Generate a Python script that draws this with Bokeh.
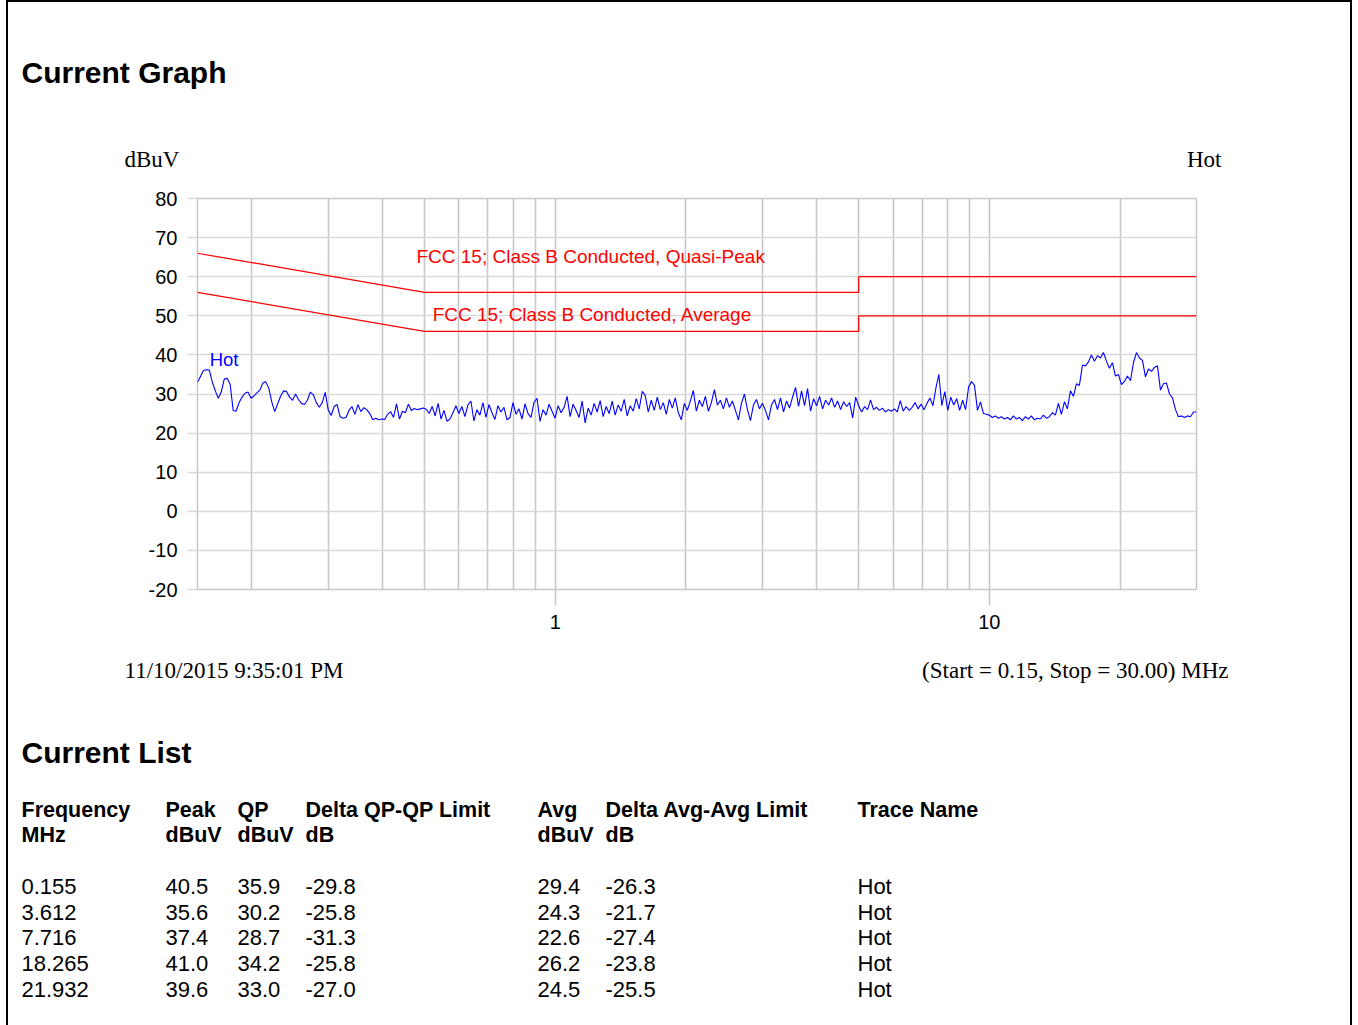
import numpy as np
from bokeh.plotting import figure
from bokeh.models import Range1d, FixedTicker, Label
from bokeh.embed import file_html
from bokeh.resources import INLINE

# ---------------- data ----------------
START_MHZ, STOP_MHZ = 0.15, 30.0
SEG_EDGES_MHZ = [0.15, 0.30, 0.60, 5.0, 10.0, 30.0]

hot_seg_a = [33.0, 34.5, 36.0, 36.2, 36.1, 33.0, 30.8, 28.9, 30.5, 33.8,
             34.0, 32.5, 25.8, 25.6, 27.8, 29.2, 30.2, 30.5, 28.9, 29.5,
             30.3, 31.0, 32.8, 33.1, 31.5, 28.0, 25.5, 27.5, 29.5, 30.8,
             30.6, 29.2, 28.4, 30.0, 28.6, 27.6, 27.3, 28.4, 30.5, 29.8,
             27.8, 26.6, 27.8, 30.4]
hot_seg_b = [26.0, 24.5, 26.8, 27.3, 24.2, 23.8, 24.0, 25.8, 26.8, 24.8,
             27.3, 25.5, 26.5, 26.0, 25.0, 23.4, 23.8, 23.4, 23.6, 23.5,
             24.8, 25.5, 24.0, 27.5, 23.6, 25.6, 25.2, 27.4, 25.8, 26.3,
             26.0, 26.2, 26.4, 26.1, 25.0, 26.8, 24.4, 27.6, 23.6, 25.8,
             23.0, 23.6, 25.2, 27.0]
hot_seg_c = [25.0, 26.8, 24.2, 27.2, 28.2, 23.1, 26.0, 24.6, 27.8, 24.0,
             27.3, 25.2, 23.5, 27.0, 25.4, 26.6, 23.4, 24.0, 27.8, 24.8,
             26.2, 23.6, 27.5, 25.0, 24.0, 27.9, 28.9, 23.0, 26.0, 24.6,
             27.4, 25.6, 23.8, 27.0, 25.2, 26.6, 29.4, 24.2, 27.4, 25.8,
             24.0, 28.2, 22.6, 26.4, 24.6, 27.6, 25.4, 28.3, 24.2, 26.8,
             25.0, 28.2, 24.6, 27.2, 25.6, 28.6, 24.4, 27.0, 25.6, 28.8,
             26.2, 30.7, 29.6, 25.4, 28.4, 25.8, 29.2, 26.0, 27.8, 24.8,
             28.6, 26.4, 29.0, 25.2, 23.4, 27.6, 25.8, 28.2, 30.9, 25.6,
             28.4, 26.8, 29.4, 25.6, 27.8, 31.1, 27.2, 28.4, 26.2, 29.0,
             26.6, 28.2, 25.8, 23.4, 27.6, 30.0, 26.0, 23.2, 27.2, 28.6,
             26.2, 27.6, 25.8, 23.4, 27.2, 28.6, 26.0, 29.0, 25.4, 28.2,
             26.4, 29.2, 31.7, 26.8, 30.8, 27.0, 31.4, 25.6, 28.8, 27.0,
             29.4, 26.2, 28.4, 27.2, 29.0, 26.6, 28.2, 26.0, 28.0, 26.8,
             27.8, 23.9, 29.2]
hot_seg_d = [27.0, 25.4, 26.8, 26.0, 28.5, 26.0, 26.6, 25.8, 26.4, 25.4,
             26.0, 25.6, 26.2, 25.4, 28.3, 25.6, 26.8, 25.8, 26.6, 27.8,
             26.2, 27.4, 26.0, 27.6, 29.0, 27.0, 31.5, 35.0, 27.0, 30.6,
             25.8, 29.2, 27.2, 28.8, 25.8, 28.4, 26.0, 31.8, 33.2, 32.2,
             25.8, 28.0, 25.0, 24.8]
hot_seg_e = [24.6, 24.0, 24.4, 23.8, 24.2, 23.6, 24.0, 23.4, 24.4, 23.6,
             24.0, 23.2, 24.2, 23.6, 24.4, 23.4, 23.8, 23.6, 24.6, 23.8,
             24.2, 25.2, 24.6, 27.6, 24.8, 28.0, 26.2, 30.8, 29.4, 32.6,
             32.2, 37.4, 37.2, 38.2, 40.0, 38.4, 39.8, 39.2, 40.6, 38.4,
             36.6, 38.0, 34.6, 35.0, 32.4, 33.2, 34.6, 33.4, 38.0, 40.6,
             39.2, 38.6, 34.4, 36.4, 35.8, 36.8, 37.2, 31.0, 32.6, 32.8,
             30.0, 29.0, 26.0, 24.2, 24.4, 24.0, 24.4, 24.2, 25.4, 25.4]

limit_freq_mhz = [0.15, 0.50, 5.0, 5.0, 30.0]
qp_limit_dbuv = [66.0, 56.0, 56.0, 60.0, 60.0]
avg_limit_dbuv = [56.0, 46.0, 46.0, 50.0, 50.0]

y_ticks = [-20, -10, 0, 10, 20, 30, 40, 50, 60, 70, 80]
x_label_ticks = [1, 10]
x_grid_ticks = [0.2, 0.3, 0.4, 0.5, 0.6, 0.7, 0.8, 0.9, 1, 2, 3, 4, 5, 6, 7, 8, 9, 10, 20]

list_freq_mhz = [0.155, 3.612, 7.716, 18.265, 21.932]
list_peak = [40.5, 35.6, 37.4, 41.0, 39.6]
list_qp = [35.9, 30.2, 28.7, 34.2, 33.0]
list_delta_qp = [-29.8, -25.8, -31.3, -25.8, -27.0]
list_avg = [29.4, 24.3, 22.6, 26.2, 24.5]
list_delta_avg = [-26.3, -21.7, -27.4, -23.8, -25.5]
list_trace = ["Hot", "Hot", "Hot", "Hot", "Hot"]

# sweep frequency grid for each trace segment
segs = [hot_seg_a, hot_seg_b, hot_seg_c, hot_seg_d, hot_seg_e]
freqs, vals = [], []
for i, s in enumerate(segs):
    f = np.geomspace(SEG_EDGES_MHZ[i], SEG_EDGES_MHZ[i + 1], len(s), endpoint=(i == len(segs) - 1))
    freqs.extend(f.tolist())
    vals.extend(s)

SANS = "Liberation Sans"
SERIF = "Liberation Serif"

# ---------------- page (background with texts and border) ----------------
PW, PH = 1346, 1025
OX, OY = 8, 2                # page position of the drawing origin
page = figure(width=PW, height=PH, x_range=Range1d(0, PW), y_range=Range1d(PH, 0),
              min_border=0, x_axis_location=None, y_axis_location=None,
              output_backend="svg", toolbar_location=None)
page.styles = {"position": "absolute", "left": "6px", "top": "0px",
               "border-left": "2px solid #000", "border-right": "2px solid #000",
               "border-top": "2px solid #000"}
page.grid.visible = False
page.outline_line_color = None
page.background_fill_color = "white"
page.border_fill_color = "white"


def page_label(px, py, text, font=SANS, size="22px", align="left", style="normal"):
    page.add_layout(Label(x=px - OX, y=py - OY, text=text,
                          text_font=font, text_font_size=size, text_align=align, text_baseline="middle",
                          text_font_style=style, text_color="black"))


page_label(21, 72, "Current Graph", size="30px", style="bold")
page_label(124, 159, "dBuV", font=SERIF, size="23px")
page_label(1221, 159, "Hot", font=SERIF, size="23px", align="right")
page_label(124, 670, "11/10/2015 9:35:01 PM", font=SERIF, size="23px")
page_label(1228, 670, "(Start = 0.15, Stop = 30.00) MHz", font=SERIF, size="23px", align="right")
page_label(21, 752, "Current List", size="30px", style="bold")

col_x = [21, 165, 237, 305, 537, 605, 857]
head1 = ["Frequency", "Peak", "QP", "Delta QP-QP Limit", "Avg", "Delta Avg-Avg Limit", "Trace Name"]
head2 = ["MHz", "dBuV", "dBuV", "dB", "dBuV", "dB", ""]
for cx, h1, h2 in zip(col_x, head1, head2):
    page_label(cx, 809, h1, size="21.5px", style="bold")
    if h2:
        page_label(cx, 834, h2, size="21.5px", style="bold")

row_mid = [886, 911.7, 937.3, 963, 988.6]
for i, ym in enumerate(row_mid):
    cells = [f"{list_freq_mhz[i]:.3f}", f"{list_peak[i]:.1f}", f"{list_qp[i]:.1f}", f"{list_delta_qp[i]:.1f}",
             f"{list_avg[i]:.1f}", f"{list_delta_avg[i]:.1f}", list_trace[i]]
    for cx, c in zip(col_x, cells):
        page_label(cx, ym, c)

# ---------------- chart ----------------
FL, FT = 197, 198            # frame left / top on the page
MBL, MBT, MBR, MBB = 60, 10, 10, 60
p = figure(x_axis_type="log", x_range=Range1d(START_MHZ, STOP_MHZ), y_range=Range1d(-20, 80),
           frame_width=999, frame_height=391,
           min_border_left=MBL, min_border_right=MBR, min_border_top=MBT, min_border_bottom=MBB,
           output_backend="svg", toolbar_location=None)
p.styles = {"position": "absolute", "left": f"{FL - MBL}px", "top": f"{FT - MBT}px"}
p.background_fill_color = "white"
p.border_fill_alpha = 0
p.outline_line_color = "#c8c8c8"
p.outline_line_width = 1.5

p.xgrid.ticker = FixedTicker(ticks=x_grid_ticks)
p.xgrid.grid_line_color = "#c8c8c8"
p.xgrid.grid_line_width = 1.6
p.ygrid.ticker = FixedTicker(ticks=y_ticks)
p.ygrid.grid_line_color = "#d9d9d9"
p.ygrid.grid_line_width = 1.4

p.yaxis.ticker = FixedTicker(ticks=y_ticks)
p.yaxis.major_label_overrides = {t: str(t) for t in y_ticks}
p.yaxis.axis_line_color = None
p.yaxis.major_tick_line_color = "#d9d9d9"
p.yaxis.major_tick_line_width = 1.4
p.yaxis.major_tick_out = 10
p.yaxis.major_tick_in = 0
p.yaxis.minor_tick_line_color = None
p.yaxis.major_label_standoff = 10
p.yaxis.major_label_text_font = SANS
p.yaxis.major_label_text_font_size = "20px"
p.yaxis.major_label_text_color = "black"

p.xaxis.ticker = FixedTicker(ticks=x_label_ticks, minor_ticks=[])
p.xaxis.major_label_overrides = {1: "1", 10: "10"}
p.xaxis.axis_line_color = None
p.xaxis.major_tick_line_color = "#c8c8c8"
p.xaxis.major_tick_line_width = 1.6
p.xaxis.major_tick_out = 16
p.xaxis.major_tick_in = 0
p.xaxis.minor_tick_line_color = None
p.xaxis.major_label_standoff = 9
p.xaxis.major_label_text_font = SANS
p.xaxis.major_label_text_font_size = "20px"
p.xaxis.major_label_text_color = "black"

p.line(limit_freq_mhz, qp_limit_dbuv, line_color="#ff0000", line_width=1.2)
p.line(limit_freq_mhz, avg_limit_dbuv, line_color="#ff0000", line_width=1.2)
p.line(freqs, vals, line_color="#0000ff", line_width=1.1)

p.add_layout(Label(x=0.479, y=65.2, text="FCC 15; Class B Conducted, Quasi-Peak", text_color="#ff0000",
                   text_font=SANS, text_font_size="19px", text_baseline="middle", text_align="left"))
p.add_layout(Label(x=0.522, y=50.3, text="FCC 15; Class B Conducted, Average", text_color="#ff0000",
                   text_font=SANS, text_font_size="19px", text_baseline="middle", text_align="left"))
p.add_layout(Label(x=0.16, y=38.8, text="Hot", text_color="#0000ff",
                   text_font=SANS, text_font_size="18.5px", text_baseline="middle", text_align="left"))

open("out.html", "w").write(file_html([page, p], INLINE))
